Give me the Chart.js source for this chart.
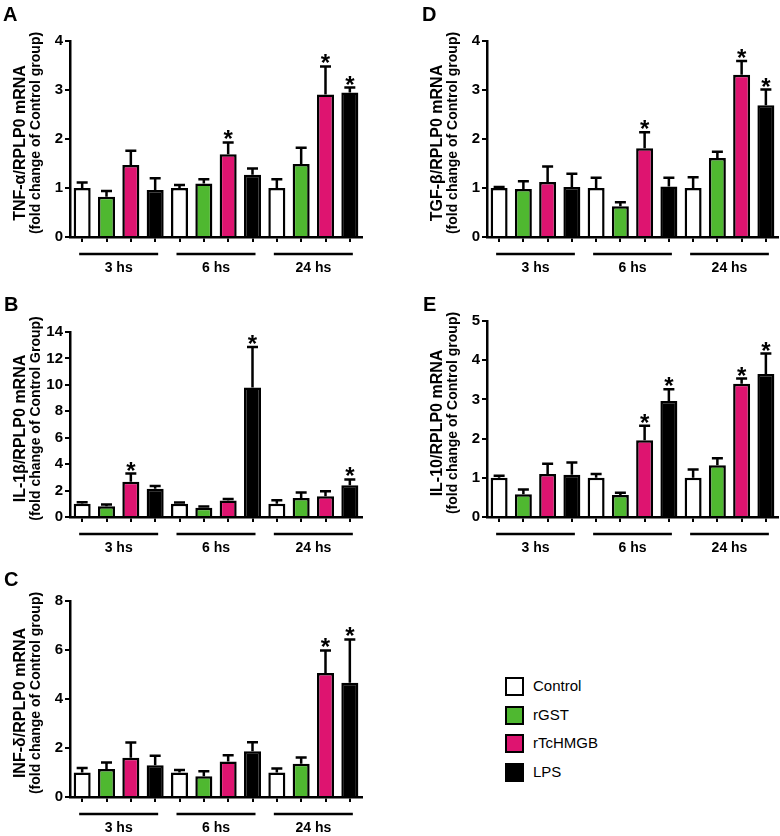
<!DOCTYPE html>
<html>
<head>
<title>mRNA expression panels</title>
<script src="https://cdn.jsdelivr.net/npm/chart.js"></script>
<style>
  body { margin: 0; background: #fff; font-family: "Liberation Sans", Arial, sans-serif; }
  #page { position: relative; width: 780px; height: 836px; overflow: hidden; }
  canvas { position: absolute; }
  .letter { position: absolute; font-weight: bold; font-size: 20px; line-height: 20px; }
  .legend { position: absolute; left: 505px; top: 677px; font-size: 15px; }
  .legend div { height: 28.7px; display: flex; align-items: flex-start; }
  .legend span.box { display: inline-block; width: 15px; height: 15px; border: 2.5px solid #000; margin-right: 9px; }
</style>
</head>
<body>
<div id="page">
  <canvas id="chartA" width="380" height="280" style="left:0;top:0"></canvas>
  <canvas id="chartD" width="380" height="280" style="left:400px;top:0"></canvas>
  <canvas id="chartB" width="380" height="275" style="left:0;top:280px"></canvas>
  <canvas id="chartE" width="380" height="275" style="left:400px;top:280px"></canvas>
  <canvas id="chartC" width="380" height="281" style="left:0;top:555px"></canvas>
  <div class="letter" style="left:3px;top:4px">A</div>
  <div class="letter" style="left:422px;top:4px">D</div>
  <div class="letter" style="left:4px;top:294px">B</div>
  <div class="letter" style="left:423px;top:294px">E</div>
  <div class="letter" style="left:4px;top:569px">C</div>
  <div class="legend" id="legend"></div>
</div>
<script>
// groups and treatments
var timepoints = ['3 hs', '6 hs', '24 hs'];
var treatments = ['Control', 'rGST', 'rTcHMGB', 'LPS'];
var treatmentColors = ['#ffffff', '#4fb830', '#de1470', '#000000'];

// means (fold change) per bar: 3 hs x4, 6 hs x4, 24 hs x4
var tnfMean = [1.0, 0.82, 1.47, 0.96, 1.0, 1.09, 1.69, 1.27, 1.0, 1.49, 2.91, 2.95];
var tnfSem  = [0.11, 0.12, 0.29, 0.24, 0.06, 0.09, 0.24, 0.13, 0.18, 0.33, 0.57, 0.10];
var tnfSig  = [6, 10, 11];

var il1Mean = [1.0, 0.82, 2.66, 2.13, 1.0, 0.70, 1.25, 9.8, 1.0, 1.44, 1.57, 2.4];
var il1Sem  = [0.12, 0.12, 0.63, 0.22, 0.10, 0.10, 0.12, 3.06, 0.27, 0.41, 0.38, 0.44];
var il1Sig  = [2, 7, 11];

var infMean = [1.0, 1.14, 1.6, 1.3, 1.0, 0.85, 1.45, 1.87, 1.0, 1.36, 5.06, 4.66];
var infSem  = [0.18, 0.27, 0.62, 0.38, 0.10, 0.20, 0.25, 0.36, 0.16, 0.25, 0.92, 1.77];
var infSig  = [10, 11];

var tgfMean = [1.0, 0.98, 1.12, 1.02, 1.0, 0.63, 1.81, 1.03, 1.0, 1.61, 3.31, 2.69];
var tgfSem  = [0.02, 0.16, 0.32, 0.27, 0.21, 0.08, 0.33, 0.18, 0.22, 0.13, 0.28, 0.32];
var tgfSig  = [6, 10, 11];

var il10Mean = [1.0, 0.58, 1.1, 1.08, 1.0, 0.56, 1.96, 2.96, 1.0, 1.32, 3.4, 3.65];
var il10Sem  = [0.05, 0.12, 0.26, 0.31, 0.10, 0.06, 0.37, 0.30, 0.21, 0.18, 0.13, 0.52];
var il10Sig  = [6, 7, 10, 11];

var FONT = '"Liberation Sans", Arial, sans-serif';

// labels and colours for the 12 bars
var barLabels = [];
var barColors = [];
timepoints.forEach(function (t) {
    treatments.forEach(function (tr, j) {
        barLabels.push(t + ' ' + tr);
        barColors.push(treatmentColors[j]);
    });
});

// error bars, stars, group lines and the y title
var extras = {
    id: 'extras',
    afterDatasetsDraw: function (chart) {
        var o = chart.options.plugins.extras;
        var ctx = chart.ctx;
        var y = chart.scales.y, x = chart.scales.x;
        var meta = chart.getDatasetMeta(0);
        ctx.save();
        ctx.strokeStyle = '#000';
        ctx.fillStyle = '#000';
        ctx.lineWidth = 2.5;
        meta.data.forEach(function (bar, i) {
            var top = y.getPixelForValue(o.mean[i] + o.sem[i]);
            ctx.beginPath();
            ctx.moveTo(bar.x, bar.y);
            ctx.lineTo(bar.x, top);
            ctx.moveTo(bar.x - 5.5, top);
            ctx.lineTo(bar.x + 5.5, top);
            ctx.stroke();
            if (o.sig.indexOf(i) >= 0) {
                ctx.font = 'bold 24px ' + FONT;
                ctx.textAlign = 'center';
                ctx.textBaseline = 'alphabetic';
                var m = ctx.measureText('*');
                ctx.fillText('*', bar.x, top - 3 - m.actualBoundingBoxDescent);
            }
        });
        // time groups under the axis
        var area = chart.chartArea;
        ctx.font = 'bold 14px ' + FONT;
        ctx.textAlign = 'center';
        ctx.textBaseline = 'middle';
        timepoints.forEach(function (t, g) {
            var x1 = x.getPixelForValue(g * 4) - 3;
            var x2 = x.getPixelForValue(g * 4 + 3) + 3;
            ctx.beginPath();
            ctx.lineWidth = 2.5;
            ctx.moveTo(x1, area.bottom + 17);
            ctx.lineTo(x2, area.bottom + 17);
            ctx.stroke();
            ctx.fillText(t, (x1 + x2) / 2, area.bottom + 31);
        });
        // two-line y title
        var mid = (area.top + area.bottom) / 2;
        ctx.translate(area.left - 49, mid);
        ctx.rotate(-Math.PI / 2);
        ctx.font = 'bold 16px ' + FONT;
        ctx.fillText(o.title[0], -4, 0);
        ctx.font = 'bold 14px ' + FONT;
        ctx.fillText(o.title[1], 6, 15);
        ctx.restore();
    }
};

function makePanel(id, canvasBox, area, mean, sem, sig, yMax, yStep, title) {
    var c = document.getElementById(id);
    return new Chart(c.getContext('2d'), {
        type: 'bar',
        data: {
            labels: barLabels,
            datasets: [{
                data: mean,
                backgroundColor: barColors,
                borderColor: '#000',
                borderWidth: 2.5,
                categoryPercentage: 1,
                barPercentage: 0.7
            }]
        },
        options: {
            responsive: false,
            animation: false,
            devicePixelRatio: 1,
            layout: {
                padding: {
                    left: 0,
                    top: area.t - canvasBox.y,
                    right: canvasBox.x + canvasBox.w - area.r,
                    bottom: 0
                }
            },
            plugins: {
                legend: { display: false },
                tooltip: { enabled: false },
                extras: { mean: mean, sem: sem, sig: sig, title: title }
            },
            scales: {
                x: {
                    grid: { display: true, offset: false, drawOnChartArea: false, drawTicks: true, tickLength: 5, color: '#000', lineWidth: 2 },
                    border: { display: true, color: '#000', width: 2.5 },
                    ticks: { display: false },
                    afterFit: function (s) { s.height = canvasBox.y + canvasBox.h - area.b; }
                },
                y: {
                    min: 0,
                    max: yMax,
                    grid: { display: true, drawOnChartArea: false, drawTicks: true, tickLength: 5, color: '#000', lineWidth: 2 },
                    border: { display: true, color: '#000', width: 2.5 },
                    ticks: {
                        stepSize: yStep,
                        padding: 2,
                        color: '#000',
                        font: { family: FONT, size: 15, weight: 'bold' }
                    },
                    afterFit: function (s) { s.width = area.l - canvasBox.x; }
                }
            }
        },
        plugins: [extras]
    });
}

makePanel('chartA', {x: 0, y: 0, w: 380, h: 280}, {l: 70, t: 41, r: 362, b: 237},
    tnfMean, tnfSem, tnfSig, 4, 1, ['TNF-\u03b1/RPLP0 mRNA', '(fold change of Control group)']);
makePanel('chartD', {x: 400, y: 0, w: 380, h: 280}, {l: 487, t: 41, r: 778, b: 237},
    tgfMean, tgfSem, tgfSig, 4, 1, ['TGF-\u03b2/RPLP0 mRNA', '(fold change of Control group)']);
makePanel('chartB', {x: 0, y: 280, w: 380, h: 275}, {l: 70, t: 332, r: 362, b: 517},
    il1Mean, il1Sem, il1Sig, 14, 2, ['IL-1\u03b2/RPLP0 mRNA', '(fold change of Control Group)']);
makePanel('chartE', {x: 400, y: 280, w: 380, h: 275}, {l: 487, t: 321, r: 778, b: 517},
    il10Mean, il10Sem, il10Sig, 5, 1, ['IL-10/RPLP0 mRNA', '(fold change of Control group)']);
makePanel('chartC', {x: 0, y: 555, w: 380, h: 281}, {l: 70, t: 601, r: 362, b: 797},
    infMean, infSem, infSig, 8, 2, ['INF-\u03b4/RPLP0 mRNA', '(fold change of Control group)']);

// legend
var legend = document.getElementById('legend');
treatments.forEach(function (tr, j) {
    var row = document.createElement('div');
    row.innerHTML = '<span class="box" style="background:' + treatmentColors[j] + '"></span><span>' + tr + '</span>';
    legend.appendChild(row);
});
</script>
</body>
</html>
